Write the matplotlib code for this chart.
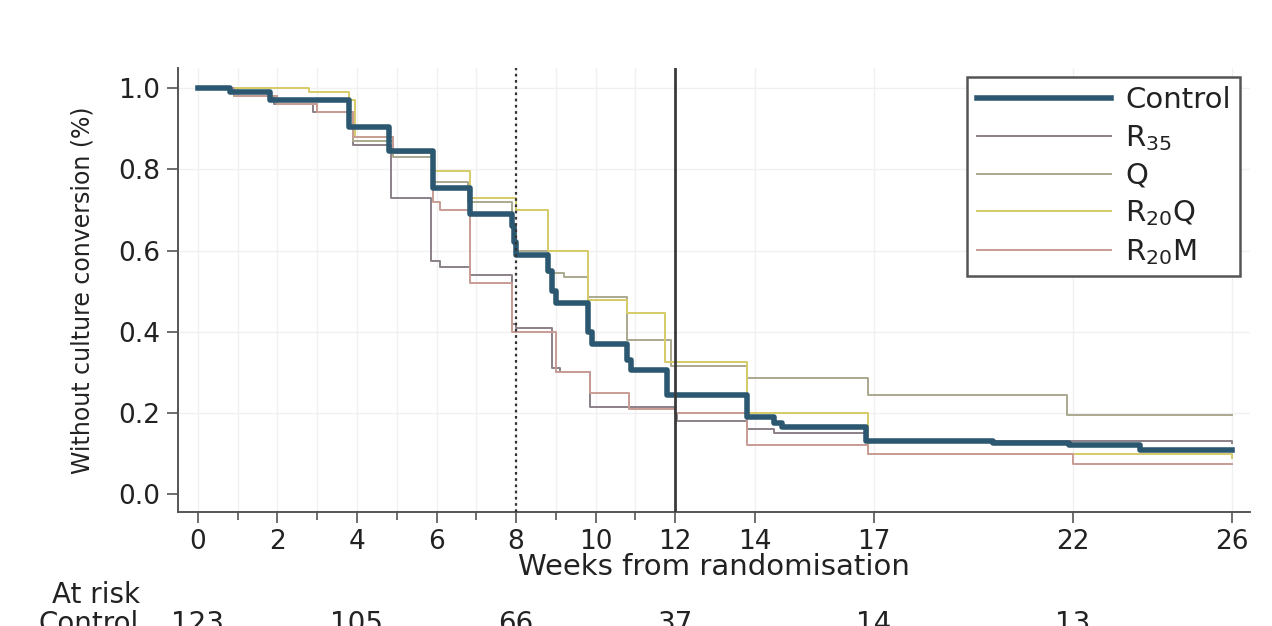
import numpy as np
import matplotlib
matplotlib.use("Agg")
import matplotlib.pyplot as plt
import matplotlib.transforms as mtransforms

plt.rcParams['font.family'] = ['DejaVu Sans']
plt.rcParams['mathtext.fontset'] = 'dejavusans'

# Kaplan-Meier step data (week of drop, proportion after drop)
weeks_control = [0, 0.8, 1.8, 3.8, 4.8, 5.9, 6.85, 7.9, 7.95, 8.0, 8.8, 8.9, 9.0, 9.8, 9.9,
                 10.8, 10.9, 11.8, 13.8, 14.5, 14.7, 16.8, 20.0, 21.9, 23.7, 26]
surv_control = [1.0, 0.99, 0.97, 0.905, 0.845, 0.755, 0.69, 0.66, 0.62, 0.59, 0.55, 0.50, 0.47, 0.40, 0.37,
                0.33, 0.305, 0.245, 0.19, 0.175, 0.165, 0.13, 0.125, 0.12, 0.108, 0.108]

weeks_r35 = [0, 0.9, 1.9, 2.9, 3.9, 4.85, 5.85, 6.1, 6.85, 7.9, 8.0, 8.9, 9.1, 9.85, 12.0, 12.05,
             13.8, 14.5, 16.8, 26]
surv_r35 = [1.0, 0.98, 0.96, 0.94, 0.86, 0.73, 0.575, 0.56, 0.54, 0.42, 0.41, 0.31, 0.30, 0.215, 0.20, 0.18,
            0.16, 0.15, 0.13, 0.125]

weeks_q = [0, 1.0, 2.0, 3.0, 3.9, 4.9, 5.9, 6.8, 7.9, 8.0, 8.8, 9.2, 9.8, 10.8, 11.9, 13.8, 16.85, 21.85, 26]
surv_q = [1.0, 0.98, 0.96, 0.94, 0.87, 0.83, 0.77, 0.72, 0.66, 0.60, 0.545, 0.535, 0.485, 0.38, 0.315,
          0.285, 0.244, 0.195, 0.195]

weeks_r20q = [0, 2.8, 3.8, 3.95, 4.9, 5.9, 6.85, 8.0, 8.8, 9.8, 10.8, 11.75, 13.8, 16.85, 26]
surv_r20q = [1.0, 0.99, 0.97, 0.88, 0.84, 0.795, 0.73, 0.70, 0.60, 0.478, 0.445, 0.326, 0.20, 0.10, 0.09]

weeks_r20m = [0, 0.9, 2.0, 3.0, 3.9, 4.9, 5.9, 6.1, 6.85, 7.9, 9.0, 9.85, 10.85, 12.0, 13.8, 16.85, 22.0, 26]
surv_r20m = [1.0, 0.98, 0.96, 0.94, 0.88, 0.84, 0.72, 0.70, 0.52, 0.40, 0.30, 0.25, 0.21, 0.20, 0.12,
             0.10, 0.075, 0.075]

xtick_weeks = [0, 2, 4, 6, 8, 10, 12, 14, 17, 22, 26]
minor_weeks = [1, 3, 5, 7, 9, 11]
risk_weeks = [0, 4, 8, 12, 17, 22]
at_risk_control = ['123', '105', '66', '37', '14', '13']

fig = plt.figure(figsize=(12.72, 6.26), dpi=100)
ax = fig.add_axes([0.140, 0.182, 0.843, 0.709])

# light grid
for w in xtick_weeks + minor_weeks:
    ax.axvline(w, color='#f0f0f0', lw=1.0, zorder=0)
for v in [0.2, 0.4, 0.6, 0.8, 1.0]:
    ax.axhline(v, color='#f0f0f0', lw=1.0, zorder=0)

ax.step(weeks_r35, surv_r35, where='post', color='#8c8088', lw=1.4, label='R$_{35}$')
ax.step(weeks_q, surv_q, where='post', color='#aaa88e', lw=1.4, label='Q')
ax.step(weeks_r20q, surv_r20q, where='post', color='#d6cb68', lw=1.4, label='R$_{20}$Q')
ax.step(weeks_r20m, surv_r20m, where='post', color='#c89c94', lw=1.4, label='R$_{20}$M')
ax.step(weeks_control, surv_control, where='post', color='#2b5870', lw=4, label='Control', zorder=5)

ax.axvline(8, color='#333333', lw=1.6, ls=(0, (1.2, 1.6)), zorder=6)
ax.axvline(12, color='#3a3a3a', lw=2.0, zorder=6)

ax.set_xlim(-0.5, 26.47)
ax.set_ylim(-0.044, 1.049)
ax.set_xticks(xtick_weeks)
ax.set_xticks(minor_weeks, minor=True)
ax.set_yticks([0, 0.2, 0.4, 0.6, 0.8, 1.0])
ax.set_yticklabels(['0.0', '0.2', '0.4', '0.6', '0.8', '1.0'])
ax.tick_params(axis='both', which='major', length=8, width=1.2, color='#555555', labelcolor='#222222')
ax.tick_params(axis='y', labelsize=19, pad=5)
ax.tick_params(axis='x', labelsize=19, pad=4)
ax.tick_params(axis='x', which='minor', length=6, width=1.2, color='#555555')

for s in ['top', 'right']:
    ax.spines[s].set_visible(False)
for s in ['left', 'bottom']:
    ax.spines[s].set_color('#555555')
    ax.spines[s].set_linewidth(1.4)

ax.set_xlabel('Weeks from randomisation', fontsize=21, labelpad=-1, color='#222222')
ax.set_ylabel('Without culture conversion (%)', fontsize=17, labelpad=17, color='#222222')

handles, labels = ax.get_legend_handles_labels()
order = [4, 0, 1, 2, 3]
leg = ax.legend([handles[i] for i in order], [labels[i] for i in order],
                loc='upper right', bbox_to_anchor=(0.9907, 0.980), borderaxespad=0,
                fontsize=21, handlelength=4.6, handletextpad=0.5, labelspacing=0.30,
                borderpad=0.32, fancybox=False, framealpha=1, edgecolor='#555555')
leg.get_frame().set_linewidth(1.8)
for t in leg.get_texts():
    t.set_color('#222222')

# number at risk table (cut at the bottom edge)
fig.text(0.041, 0.050, 'At risk', fontsize=20, ha='left', va='center', color='#222222')
fig.text(0.030, 0.025, 'Control', fontsize=20, ha='left', va='top', color='#222222')
risk_trans = mtransforms.blended_transform_factory(ax.transData, fig.transFigure)
for w, n in zip(risk_weeks, at_risk_control):
    fig.text(w, 0.025, n, fontsize=20, ha='center', va='top', color='#222222', transform=risk_trans)

fig.savefig('out.png', dpi=100)
